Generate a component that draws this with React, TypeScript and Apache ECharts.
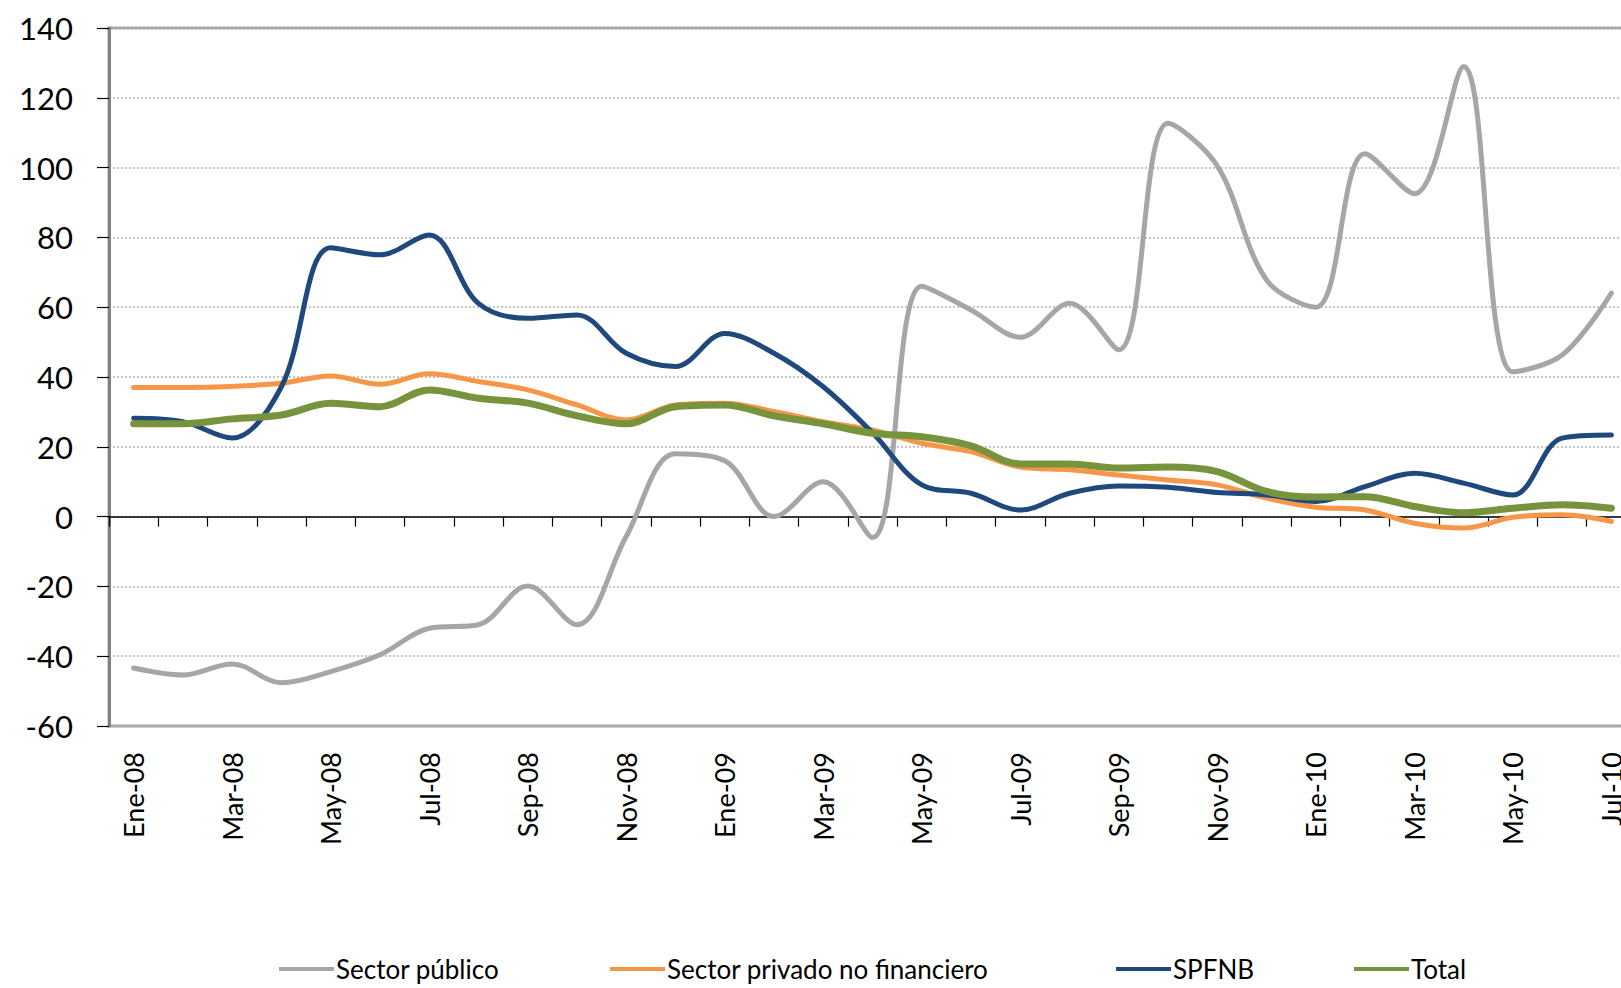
import React, { useEffect, useRef } from "react";
import * as echarts from "echarts";

const categories = [
  "Ene-08", "Feb-08", "Mar-08", "Abr-08", "May-08", "Jun-08", "Jul-08", "Ago-08", "Sep-08", "Oct-08", "Nov-08", "Dic-08",
  "Ene-09", "Feb-09", "Mar-09", "Abr-09", "May-09", "Jun-09", "Jul-09", "Ago-09", "Sep-09", "Oct-09", "Nov-09", "Dic-09",
  "Ene-10", "Feb-10", "Mar-10", "Abr-10", "May-10", "Jun-10", "Jul-10",
];

const sectorPublico = [
  -43.4, -45.4, -42.2, -47.6, -44.4, -39.6, -32, -31, -19.9, -31, -5.7, 18,
  16, 0, 10, -6, 66, 59.2, 51.4, 61.1, 47.8, 112.7, 100.5, 67.8,
  60, 104, 92.5, 129, 41.5, 46.3, 64,
];
const sectorPrivado = [
  37, 37, 37.3, 38.2, 40.3, 37.9, 40.9, 38.7, 36.3, 32, 27.7, 32,
  32.5, 30.1, 27.2, 24.8, 21, 18.6, 14.2, 13.4, 11.9, 10.5, 9.1, 5.3,
  2.7, 1.9, -1.9, -3.3, -0.2, 0.5, -1.4,
];
const spfnb = [
  28.2, 27.2, 22.5, 37.2, 77, 75, 80.7, 61.1, 56.8, 57.8, 46.8, 43,
  52.5, 46.8, 37.2, 24, 9.1, 6.7, 1.9, 6.7, 8.8, 8.4, 6.9, 6.2,
  4.3, 8.6, 12.4, 9.6, 6.2, 22.5, 23.4,
];
const total = [
  26.6, 26.6, 28, 29.1, 32.5, 31.5, 36.3, 33.9, 32.5, 28.9, 26.6, 31.5,
  32, 28.9, 26.6, 23.9, 22.9, 20.3, 15.1, 15.1, 13.9, 14.2, 12.9, 7.2,
  5.6, 5.7, 2.9, 1.1, 2.4, 3.4, 2.4,
];

const seriesNames = ["Sector público", "Sector privado no financiero", "SPFNB", "Total"];
const seriesColors = ["#a6a6a6", "#f79646", "#1f497d", "#77933c"];
const seriesWidths = [5, 5, 5, 7];
const legendLefts = [274, 605, 1111, 1349];

const yMin = -60;
const yMax = 140;
const yInterval = 20;

const FONT = "Lato, 'Open Sans', sans-serif";

export default function App() {
  const ref = useRef<HTMLDivElement>(null);

  useEffect(() => {
    if (!ref.current) return;
    const chart = echarts.init(ref.current, undefined, { renderer: "svg" });
    const data = [sectorPublico, sectorPrivado, spfnb, total];
    chart.setOption({
      animation: false,
      backgroundColor: "#ffffff",
      grid: {
        left: 109,
        right: 24,
        top: 28,
        bottom: 262,
        show: true,
        borderColor: "#a6a6a6",
        borderWidth: 3,
        backgroundColor: "transparent",
      },
      legend: seriesNames.map((n, i) => ({
        data: [n],
        left: legendLefts[i],
        top: 951,
        icon: "rect",
        itemWidth: 55,
        itemHeight: 4,
        textStyle: { fontFamily: FONT, fontSize: 26, color: "#000", padding: [0, 0, 0, -3] },
        selectedMode: false,
      })),
      xAxis: [
        {
          type: "category",
          data: categories,
          boundaryGap: true,
          position: "bottom",
          axisLine: { show: false, onZero: false },
          axisTick: { show: false },
          splitLine: { show: false },
          axisLabel: {
            interval: 1,
            rotate: 90,
            margin: 26,
            fontFamily: FONT,
            fontSize: 27,
            color: "#000",
          },
        },
        {
          type: "category",
          data: categories,
          boundaryGap: true,
          position: "bottom",
          axisLine: { show: true, onZero: true, lineStyle: { color: "#000", width: 1.5 } },
          axisTick: { show: true, interval: 0, length: 10, inside: false, lineStyle: { color: "#000", width: 1.2 } },
          axisLabel: { show: false },
          splitLine: { show: false },
        },
      ],
      yAxis: {
        type: "value",
        min: yMin,
        max: yMax,
        interval: yInterval,
        axisLine: { show: true, onZero: false, lineStyle: { color: "#808080", width: 3 } },
        axisTick: { show: true, length: 12, inside: false, lineStyle: { color: "#000", width: 1.2 } },
        axisLabel: { margin: 36, fontFamily: FONT, fontSize: 31, color: "#000" },
        splitLine: { show: true, lineStyle: { color: "#b4b4b4", width: 1.5, type: [2, 2] } },
      },
      series: seriesNames.map((n, i) => ({
        name: n,
        type: "line",
        data: data[i],
        xAxisIndex: 0,
        smooth: 0.35,
        showSymbol: false,
        symbol: "none",
        color: seriesColors[i],
        lineStyle: { color: seriesColors[i], width: seriesWidths[i], cap: "round", join: "round" },
        z: 3 + i,
      })),
    });
    return () => chart.dispose();
  }, []);

  return (
    <div style={{ position: "fixed", left: 0, top: 0, width: 1621, height: 988, overflow: "hidden", background: "#fff" }}>
      <div ref={ref} style={{ width: 1660, height: 988 }} />
    </div>
  );
}
